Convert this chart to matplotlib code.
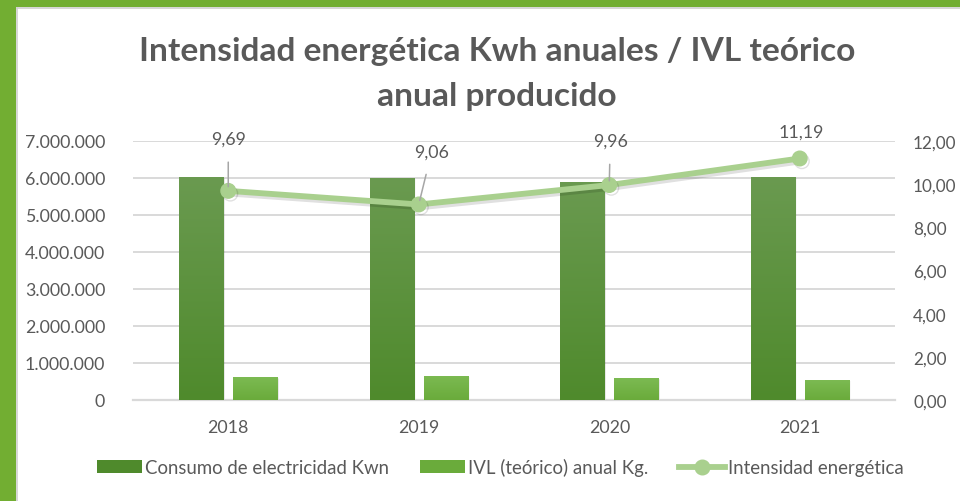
import matplotlib
matplotlib.use("Agg")
import matplotlib.pyplot as plt
import matplotlib.patheffects as pe
from matplotlib.patches import Rectangle
from matplotlib.lines import Line2D
from matplotlib.colors import LinearSegmentedColormap
from matplotlib.ticker import FuncFormatter, MultipleLocator
import numpy as np

# ---- data ----
years = ["2018", "2019", "2020", "2021"]
consumo_kwh = [6020000, 6000000, 5880000, 6030000]
ivl_kg = [615000, 660000, 590000, 540000]
intensidad = [9.69, 9.06, 9.96, 11.19]
intensidad_labels = ["9,69", "9,06", "9,96", "11,19"]

plt.rcParams["font.family"] = ["Lato", "DejaVu Sans"]
TXT = "#595959"
GRID = "#d9d9d9"
DARK_TOP, DARK_BOT = "#6a9a50", "#4f8a2c"
LIGHT_TOP, LIGHT_BOT = "#7cba52", "#6aab3b"
LINE_C = "#a9d08e"
BORDER = "#72ae32"

fig = plt.figure(figsize=(9.6, 5.02), dpi=100)
fig.patch.set_facecolor("white")

# frame of the chart card
fig.add_artist(Rectangle((0, 0), 16 / 960, 1, transform=fig.transFigure,
                         facecolor=BORDER, edgecolor="none", zorder=0))
fig.add_artist(Rectangle((0, 1 - 8 / 502), 1, 8 / 502, transform=fig.transFigure,
                         facecolor=BORDER, edgecolor="none", zorder=0))
fig.add_artist(Line2D([17 / 960, 17 / 960], [0, 1 - 9 / 502], transform=fig.transFigure,
                      color="#d0d0d0", lw=1.2))
fig.add_artist(Line2D([17 / 960, 1], [1 - 9 / 502, 1 - 9 / 502], transform=fig.transFigure,
                      color="#d0d0d0", lw=1.2))

ax = fig.add_axes([133 / 960, (502 - 401) / 502, 762 / 960, 259 / 502])
ax.set_facecolor("none")
x = np.arange(len(years))
bw = 0.232
off = 0.142

ax.set_xlim(-0.5, len(years) - 0.5)
ax.set_ylim(0, 7000000)


def gradient_bars(xs, heights, top, bot, label):
    cmap = LinearSegmentedColormap.from_list("g", [bot, top])
    bars = ax.bar(xs, heights, width=bw, color=bot, zorder=3, label=label)
    grad = np.linspace(0, 1, 256).reshape(-1, 1)
    for b in bars:
        bx, by = b.get_x(), b.get_y()
        bwid, bh = b.get_width(), b.get_height()
        # soft shadow to the right
        for k, a in zip([1.0, 2.0, 3.0], [0.10, 0.06, 0.03]):
            sh = Rectangle((bx + k * 0.0035, by), bwid, bh - k * 12000,
                           facecolor="black", alpha=a, edgecolor="none", zorder=2)
            ax.add_patch(sh)
        im = ax.imshow(grad, cmap=cmap, origin="lower", aspect="auto",
                       extent=[bx, bx + bwid, by, by + bh], zorder=3.5)
        im.set_clip_path(b)
    return bars


gradient_bars(x - off, consumo_kwh, DARK_TOP, DARK_BOT, "Consumo de electricidad Kwn")
gradient_bars(x + off, ivl_kg, LIGHT_TOP, LIGHT_BOT, "IVL (teórico) anual Kg.")
ax.set_xlim(-0.5, len(years) - 0.5)
ax.set_ylim(0, 7000000)

ax.yaxis.set_major_locator(MultipleLocator(1000000))
ax.yaxis.set_major_formatter(FuncFormatter(lambda v, p: f"{int(v):,}".replace(",", ".")))
ax.grid(axis="y", color=GRID, lw=1.4, zorder=0)
ax.set_axisbelow(True)
for s in ["top", "right", "left"]:
    ax.spines[s].set_visible(False)
ax.spines["bottom"].set_color(GRID)
ax.spines["bottom"].set_linewidth(1.6)
ax.set_xticks(x)
ax.set_xticklabels(years)
ax.tick_params(axis="both", length=0, colors=TXT, labelsize=12.8)
ax.tick_params(axis="y", pad=20)
ax.tick_params(axis="x", pad=14)

# secondary axis with the intensity line
ax2 = ax.twinx()
ax2.set_ylim(0, 12)
ax2.yaxis.set_major_locator(MultipleLocator(2))
ax2.yaxis.set_major_formatter(FuncFormatter(lambda v, p: f"{v:.2f}".replace(".", ",")))
for s in ax2.spines.values():
    s.set_visible(False)
ax2.tick_params(axis="y", length=0, colors=TXT, labelsize=12.3, pad=13)

shadow = [pe.SimpleLineShadow(offset=(1.5, -2), shadow_color="black", alpha=0.12), pe.Normal()]
ax2.plot(x, intensidad, color=LINE_C, lw=4.2, marker="o", ms=10.5,
         markerfacecolor=LINE_C, markeredgecolor=LINE_C, zorder=5,
         path_effects=shadow, label="Intensidad energética")

# value labels with leader lines
label_offsets = [(0, 52), (13, 53), (1, 44), (1, 27)]
leaders = [True, True, True, False]
for xi, yi, txt, (dx, dy), lead in zip(x, intensidad, intensidad_labels, label_offsets, leaders):
    ax2.annotate(txt, (xi, yi), xytext=(dx, dy), textcoords="offset pixels",
                 ha="center", va="center", fontsize=12.8, color=TXT, zorder=6,
                 arrowprops=dict(arrowstyle="-", color="#a6a6a6", lw=1.1,
                                 shrinkA=9, shrinkB=3) if lead else None)

# title
fig.text(497 / 960, 1 - 74 / 502, "Intensidad energética Kwh anuales / IVL teórico\nanual producido",
         ha="center", va="center", fontsize=24.1, fontweight="bold", color=TXT,
         linespacing=1.68)

# legend
h1, l1 = ax.get_legend_handles_labels()
h2, l2 = ax2.get_legend_handles_labels()
handles = [Rectangle((0, 0), 1, 1, facecolor=DARK_BOT, edgecolor="none"),
           Rectangle((0, 0), 1, 1, facecolor=LIGHT_BOT, edgecolor="none"),
           Line2D([], [], color=LINE_C, lw=4.2, marker="o", ms=10.5,
                  markerfacecolor=LINE_C, markeredgecolor=LINE_C)]
leg = fig.legend(handles, l1 + l2, loc="center", bbox_to_anchor=(500 / 960, 34 / 502),
                 ncol=3, frameon=False, fontsize=13.4, handlelength=2.45,
                 handletextpad=0.15, columnspacing=1.65, labelcolor=TXT)

fig.savefig("out.png", dpi=100, facecolor="white")
